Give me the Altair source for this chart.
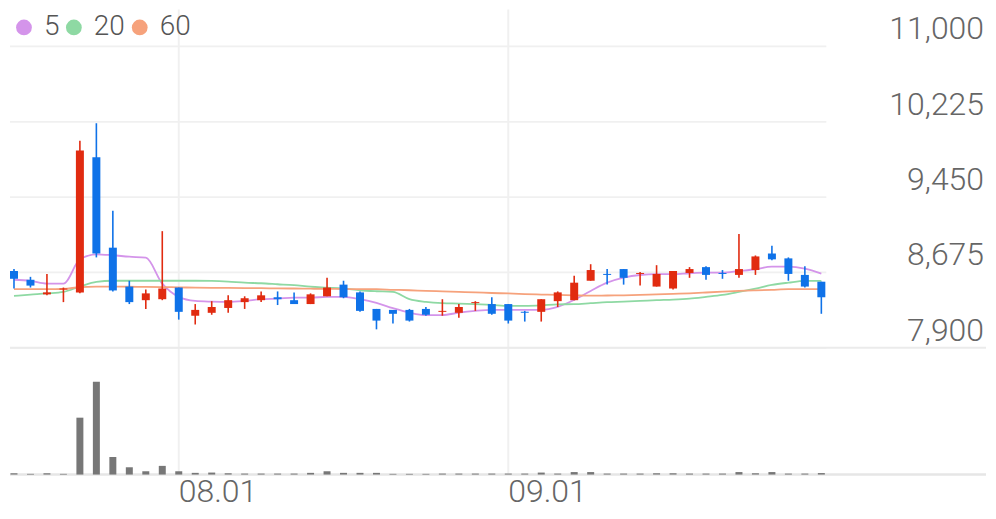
import altair as alt
import pandas as pd

# ---------------- data ----------------
x_tick_index = [10, 30]
x_tick_labels = ["08.01", "09.01"]
y_ticks = [7900, 8675, 9450, 10225, 11000]

opens = [8690, 8600, 8450, 8500, 8470, 9860, 8930, 8530, 8390, 8400,
         8520, 8230, 8260, 8310, 8370, 8390, 8420, 8390, 8350, 8430,
         8550, 8470, 8300, 8290, 8290, 8300, 8270, 8260, 8360, 8350,
         8350, 8270, 8270, 8380, 8390, 8590, 8660, 8710, 8660, 8530,
         8510, 8670, 8730, 8670, 8650, 8700, 8870, 8820, 8650, 8580]
highs = [8710, 8630, 8660, 8520, 10030, 10210, 9310, 8590, 8500, 9100,
         8520, 8350, 8380, 8440, 8430, 8480, 8480, 8470, 8460, 8620,
         8590, 8480, 8300, 8290, 8300, 8320, 8400, 8350, 8380, 8420,
         8350, 8280, 8400, 8480, 8640, 8760, 8710, 8710, 8680, 8750,
         8690, 8730, 8740, 8700, 9070, 8850, 8950, 8830, 8740, 8580]
lows = [8510, 8520, 8440, 8370, 8460, 8830, 8480, 8350, 8300, 8390,
        8190, 8140, 8240, 8260, 8300, 8370, 8340, 8350, 8350, 8430,
        8410, 8270, 8090, 8150, 8170, 8230, 8230, 8210, 8280, 8240,
        8150, 8170, 8170, 8320, 8390, 8590, 8550, 8550, 8540, 8530,
        8500, 8620, 8600, 8610, 8620, 8650, 8800, 8590, 8520, 8250]
closes = [8610, 8540, 8470, 8510, 9930, 8870, 8490, 8370, 8460, 8510,
          8270, 8290, 8320, 8390, 8410, 8440, 8400, 8350, 8450, 8520,
          8420, 8280, 8180, 8250, 8180, 8240, 8280, 8320, 8370, 8250,
          8180, 8260, 8400, 8470, 8570, 8700, 8650, 8620, 8670, 8660,
          8690, 8710, 8650, 8660, 8710, 8840, 8810, 8660, 8530, 8420]
volumes = [26000, 14000, 26000, 14000, 1140000, 1860000, 352000, 146000, 66000, 174000,
           66000, 34000, 40000, 26000, 20000, 20000, 20000, 20000, 34000, 66000,
           34000, 34000, 34000, 14000, 14000, 14000, 20000, 20000, 20000, 20000,
           20000, 20000, 40000, 20000, 50000, 50000, 20000, 20000, 20000, 26000,
           26000, 20000, 20000, 20000, 50000, 26000, 50000, 20000, 20000, 30000]

ma5 = [8600, 8588, 8560, 8560, 8810, 8862, 8852, 8837, 8827, 8560,
       8424, 8382, 8375, 8372, 8382, 8400, 8406, 8416, 8416, 8424,
       8424, 8400, 8362, 8308, 8262, 8236, 8236, 8262, 8280, 8290,
       8290, 8290, 8290, 8321, 8393, 8485, 8570, 8622, 8649, 8657,
       8657, 8667, 8673, 8673, 8690, 8708, 8735, 8735, 8714, 8663]
ma20 = [8434, 8447, 8459, 8475, 8530, 8578, 8590, 8590, 8590, 8590,
        8590, 8590, 8588, 8581, 8570, 8564, 8554, 8544, 8529, 8519,
        8509, 8492, 8482, 8475, 8400, 8372, 8359, 8355, 8349, 8341,
        8331, 8331, 8336, 8347, 8349, 8359, 8369, 8375, 8382, 8390,
        8396, 8406, 8424, 8444, 8475, 8509, 8547, 8570, 8588, 8588]
ma60 = [8503, 8503, 8503, 8505, 8525, 8530, 8530, 8528, 8527, 8525,
        8522, 8519, 8517, 8516, 8514, 8513, 8511, 8510, 8508, 8507,
        8505, 8504, 8503, 8497, 8492, 8486, 8481, 8475, 8470, 8464,
        8459, 8453, 8448, 8444, 8440, 8436, 8438, 8440, 8444, 8450,
        8455, 8461, 8469, 8477, 8485, 8491, 8497, 8503, 8503, 8503]

ma_names = ["5", "20", "60"]
ma_colors = ["#d494ea", "#8ed9a3", "#f6a27c"]

# ---------------- style / layout ----------------
UP, DOWN, VOLC = "#e12b10", "#0f72e8", "#777777"
GRID, TEXT, FONT = "#f0f0f0", "#666666", "Roboto"

W, H = 978, 500
n = len(opens)
first_px, last_px = 4.0, 813.0
step = (last_px - first_px) / (n - 1)
XMIN = -first_px / step
XMAX = (n - 1) + (W - last_px) / step
GRID_END = (n - 1) + 5 / step

top_grid_px, bot_grid_px, base_px = 37, 339, 466
won_px = (y_ticks[-1] - y_ticks[0]) / (bot_grid_px - top_grid_px)
price_dom = [y_ticks[0] - (H - bot_grid_px) * won_px, y_ticks[-1] + top_grid_px * won_px]
vol_px = 20000
vol_dom = [-(H - base_px) * vol_px, base_px * vol_px]

xscale = alt.Scale(domain=[XMIN, XMAX], nice=False, zero=False, padding=0)
pscale = alt.Scale(domain=price_dom, nice=False, zero=False, padding=0)
vscale = alt.Scale(domain=vol_dom, nice=False, zero=False, padding=0)

df = pd.DataFrame({"idx": list(range(n)), "open": opens, "high": highs,
                   "low": lows, "close": closes, "volume": volumes})
df["col"] = [UP if c >= o else DOWN for o, c in zip(opens, closes)]

X = alt.X("idx:Q", scale=xscale, axis=None)

ticks_df = pd.DataFrame({"value": y_ticks, "label": [f"{v:,}" for v in y_ticks]})
xt_df = pd.DataFrame({"idx": x_tick_index, "label": x_tick_labels})

# vertical grid lines (volume scale, from top to baseline)
vgrid = alt.Chart(xt_df).mark_rule(color=GRID, strokeWidth=2).encode(
    x=X,
    y=alt.YDatum(vol_dom[1], type="quantitative", scale=vscale, axis=None),
    y2=alt.Y2Datum(0),
)

# price panel
hgrid = alt.Chart(ticks_df).mark_rule(color=GRID, strokeWidth=1.8).encode(
    x=alt.XDatum(XMIN, type="quantitative", scale=xscale, axis=None),
    x2=alt.X2Datum(GRID_END),
    y=alt.Y("value:Q", scale=pscale, axis=None),
)
sep = alt.Chart(pd.DataFrame({"value": [y_ticks[0]]})).mark_rule(
    color="#ebebeb", strokeWidth=2).encode(
    y=alt.Y("value:Q", scale=pscale, axis=None))

ma_layers = []
for name, vals, colr in zip(ma_names, [ma5, ma20, ma60], ma_colors):
    mdf = pd.DataFrame({"idx": list(range(n)), "value": vals})
    ma_layers.append(
        alt.Chart(mdf).mark_line(color=colr, strokeWidth=1.8, interpolate="monotone").encode(
            x=X, y=alt.Y("value:Q", scale=pscale, axis=None)))

wicks = alt.Chart(df).mark_rule(strokeWidth=1.6).encode(
    x=X,
    y=alt.Y("low:Q", scale=pscale, axis=None),
    y2="high:Q",
    stroke=alt.Stroke("col:N", scale=None),
)
bodies = alt.Chart(df).mark_bar(width=8).encode(
    x=X,
    y=alt.Y("open:Q", scale=pscale, axis=None),
    y2="close:Q",
    fill=alt.Fill("col:N", scale=None),
)

ylabels = alt.Chart(ticks_df).mark_text(
    align="right", baseline="alphabetic", dx=-2, dy=-7, fontSize=32, font=FONT,
    fontWeight=300, color=TEXT).encode(
    x=alt.XDatum(XMAX, type="quantitative", scale=xscale, axis=None),
    y=alt.Y("value:Q", scale=pscale, axis=None),
    text="label:N",
)

legend_layer = alt.Chart(pd.DataFrame({"name": ma_names})).mark_circle(opacity=1).encode(
    color=alt.Color("name:N", scale=alt.Scale(domain=ma_names, range=ma_colors),
                    legend=alt.Legend(title=None, orient="none", legendX=0, legendY=4,
                                      direction="horizontal", symbolType="circle",
                                      symbolSize=250, symbolStrokeWidth=0,
                                      labelFontSize=28, labelFont=FONT, labelFontWeight=300,
                                      labelColor="#555555", labelOffset=6,
                                      columnPadding=0, padding=0, gridAlign="none"))
).transform_filter("false")

price = alt.layer(hgrid, sep, *ma_layers, wicks, bodies, ylabels, legend_layer)

# volume panel
baseline = alt.Chart(pd.DataFrame({"v": [0]})).mark_rule(color="#e6e6e6", strokeWidth=2.5).encode(
    y=alt.Y("v:Q", scale=vscale, axis=None))
vbars = alt.Chart(df).mark_bar(width=7, color=VOLC).encode(
    x=X,
    y=alt.Y("volume:Q", scale=vscale, axis=None),
    y2=alt.Y2Datum(0),
)
xlabels = alt.Chart(xt_df).mark_text(
    align="left", baseline="alphabetic", dy=27, fontSize=32, font=FONT,
    fontWeight=300, color=TEXT).encode(
    x=X,
    y=alt.YDatum(0, type="quantitative", scale=vscale, axis=None),
    text="label:N",
)
vol = alt.layer(baseline, vbars, xlabels)

chart = alt.layer(vgrid, price, vol).resolve_scale(y="independent").properties(
    width=W, height=H, padding=0, background="white"
).configure_view(stroke=None)

chart.save("out.html", embed_options={"renderer": "svg", "actions": False})
